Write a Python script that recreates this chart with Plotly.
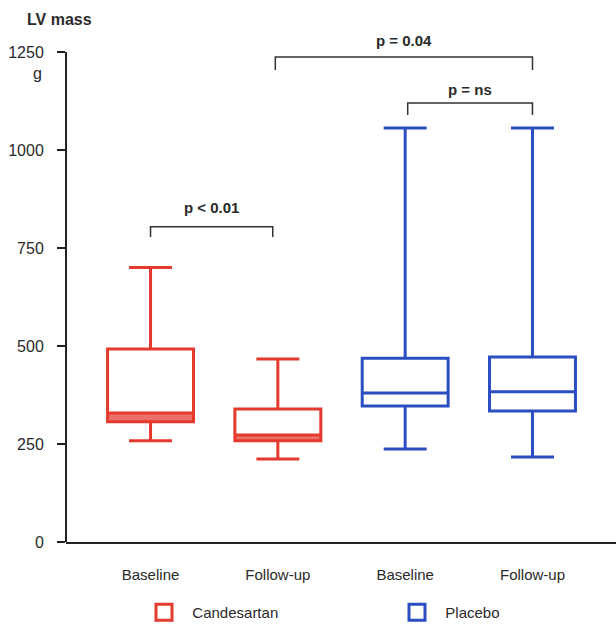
import plotly.graph_objects as go

# ---- data ----
categories = ["Baseline", "Follow-up", "Baseline", "Follow-up"]
groups = ["Candesartan", "Placebo"]
cand_x = [0, 1]
cand_lower = [258, 212]
cand_q1 = [307, 258]
cand_median = [329, 273]
cand_q3 = [492, 339]
cand_upper = [700, 467]

plac_x = [2, 3]
plac_lower = [237, 217]
plac_q1 = [347, 334]
plac_median = [380, 383]
plac_q3 = [469, 472]
plac_upper = [1056, 1056]

y_ticks = [0, 250, 500, 750, 1000, 1250]

bracket_left = [0.0, 0.98, 2.02]
bracket_right = [0.96, 3.0, 3.0]
bracket_top = [804, 1237, 1120]
bracket_drop = [778, 1204, 1089]
bracket_text = ["p < 0.01", "p = 0.04", "p = ns"]
bracket_text_y = [852, 1278, 1153]

RED = "#e5392d"
BLUE = "#2b4ec2"
FONT = "Liberation Sans, Arial, sans-serif"
TXT = "#2a2a2a"

BOX_W = 0.675

fig = go.Figure()

# band between q1 and median for Candesartan boxes
fig.add_trace(go.Bar(
    x=cand_x, base=cand_q1,
    y=[m - q for m, q in zip(cand_median, cand_q1)],
    width=BOX_W, marker=dict(color="rgba(229,57,45,0.72)", line=dict(width=0)),
    showlegend=False, hoverinfo="skip"))

fig.add_trace(go.Box(
    x=cand_x, q1=cand_q1, median=cand_median, q3=cand_q3,
    lowerfence=cand_lower, upperfence=cand_upper,
    width=BOX_W, whiskerwidth=0.5, boxpoints=False,
    line=dict(color=RED, width=3), fillcolor="rgba(0,0,0,0)",
    showlegend=False, hoverinfo="skip"))

fig.add_trace(go.Box(
    x=plac_x, q1=plac_q1, median=plac_median, q3=plac_q3,
    lowerfence=plac_lower, upperfence=plac_upper,
    width=BOX_W, whiskerwidth=0.5, boxpoints=False,
    line=dict(color=BLUE, width=3), fillcolor="rgba(0,0,0,0)",
    showlegend=False, hoverinfo="skip"))

# legend entries
for name, col in zip(groups, [RED, BLUE]):
    fig.add_trace(go.Scatter(
        x=[None], y=[None], mode="markers", name="\u00a0\u00a0" + name,
        marker=dict(symbol="square", size=16, color="white",
                    line=dict(color=col, width=3))))

# significance brackets
for xl, xr, yt, yd, txt, ty in zip(bracket_left, bracket_right, bracket_top,
                                   bracket_drop, bracket_text, bracket_text_y):
    fig.add_trace(go.Scatter(
        x=[xl, xl, xr, xr], y=[yd, yt, yt, yd], mode="lines",
        line=dict(color="#333333", width=1.5), showlegend=False,
        hoverinfo="skip"))
    fig.add_annotation(x=(xl + xr) / 2, y=ty, text="<b>" + txt + "</b>",
                       showarrow=False, xanchor="center", yanchor="middle",
                       font=dict(size=15, color=TXT, family=FONT))

# y axis line only up to top tick
fig.add_shape(type="line", xref="paper", yref="y", x0=0, x1=0,
              y0=y_ticks[0], y1=y_ticks[-1],
              line=dict(color="#222222", width=2))

fig.add_annotation(xref="paper", yref="paper", x=-0.011, y=0.983,
                   xanchor="center", yanchor="middle",
                   text="<b>LV mass</b>", showarrow=False,
                   font=dict(size=16, color=TXT, family=FONT))
fig.add_annotation(xref="paper", yref="paper", x=-0.051, y=0.880,
                   xanchor="center", yanchor="middle",
                   text="g", showarrow=False,
                   font=dict(size=16, color=TXT, family=FONT))

fig.update_layout(
    width=616, height=624,
    margin=dict(l=66, r=0, t=10, b=82),
    paper_bgcolor="white", plot_bgcolor="white",
    font=dict(family=FONT, size=15, color=TXT),
    showlegend=True,
    legend=dict(orientation="h", xref="container", yref="container",
                x=144 / 616, y=1 - 596 / 624, xanchor="left", yanchor="top",
                entrywidth=208, entrywidthmode="pixels",
                font=dict(size=15, color=TXT, family=FONT),
                bgcolor="rgba(0,0,0,0)"),
    xaxis=dict(range=[-0.664, 3.656], tickvals=[0, 1, 2, 3], ticktext=categories,
               showgrid=False, zeroline=False, showline=True,
               linecolor="#222222", linewidth=2, ticks="",
               ticklabelstandoff=18, tickfont=dict(size=15, color=TXT)),
    yaxis=dict(range=[0, 1357], tickvals=y_ticks, ticktext=[str(v) for v in y_ticks],
               showgrid=False, zeroline=False, showline=False,
               ticks="outside", ticklen=8, tickwidth=2, tickcolor="#222222",
               ticklabelstandoff=10, tickfont=dict(size=16, color=TXT)),
)

fig.write_html("out.html", config={"displayModeBar": False},
               post_script="document.body.style.margin='0';document.body.style.overflow='hidden';")
